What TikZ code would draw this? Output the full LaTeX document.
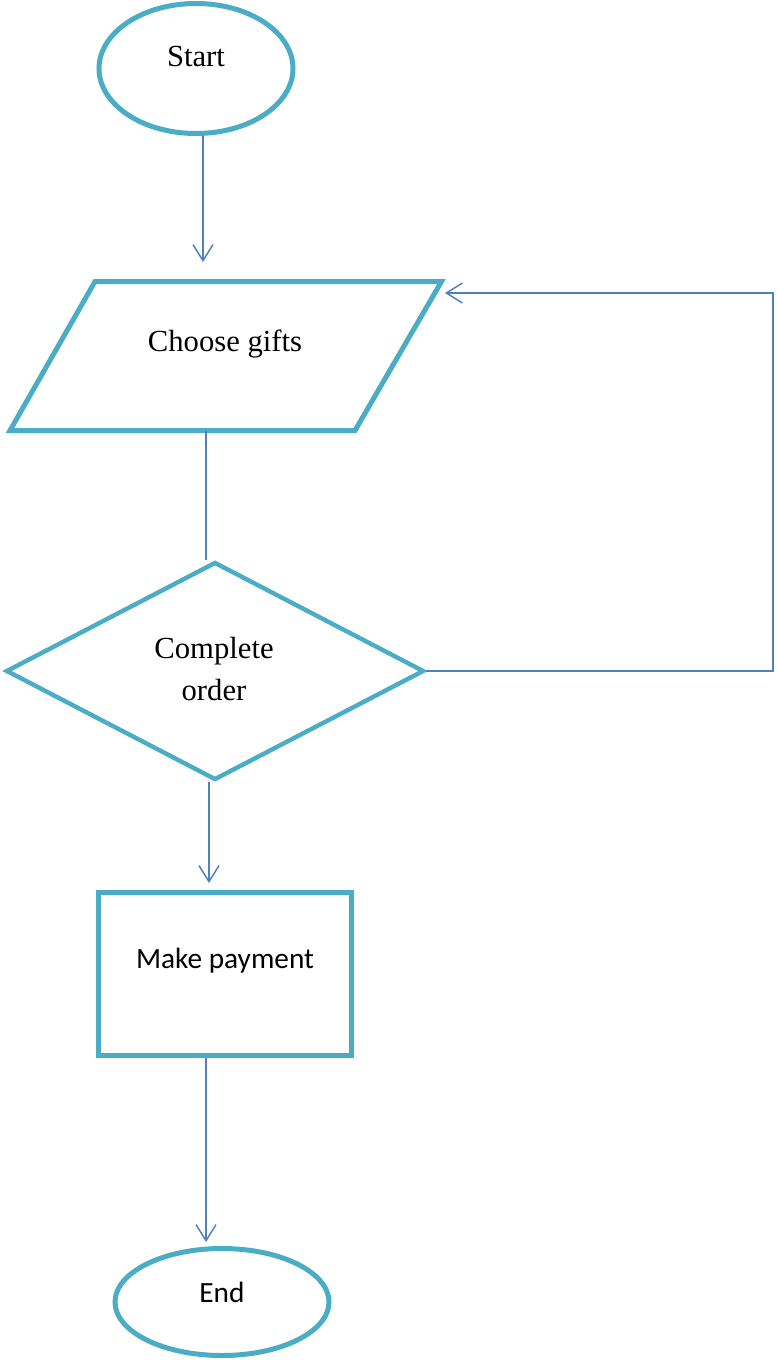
\documentclass[tikz,border=0pt]{standalone}
\usepackage{fontspec}
\setmainfont{Liberation Serif}
\newfontfamily\bodyfont{Carlito}
\usetikzlibrary{shapes.geometric,arrows.meta}
\definecolor{shapeblue}{RGB}{75,172,198}
\definecolor{lineblue}{RGB}{79,129,189}

\begin{document}
\begin{tikzpicture}[x=0.75pt,y=-0.75pt]
\tikzstyle{outline}=[draw=shapeblue,line width=3.75pt,inner sep=0pt]
\tikzstyle{terminal}=[outline,ellipse]
\tikzstyle{decision}=[outline,diamond]
\tikzstyle{process}=[outline,rectangle]
\tikzstyle{serif}=[font=\fontsize{23}{31}\selectfont,align=center,anchor=base]
\tikzstyle{sans}=[font=\bodyfont\fontsize{22}{26}\selectfont,anchor=base]
\tikzstyle{flow}=[draw=lineblue,line width=1.1pt]
\tikzstyle{flowarrow}=[flow,-{Straight Barb[length=12pt,width=15pt]}]
\useasboundingbox (0,0) rectangle (776,1360);
% shapes
\node[terminal,minimum width=145.5pt,minimum height=97.5pt] (start) at (196,68.5) {};
\coordinate (choose-tl) at (95,281.5);
\coordinate (choose-tr) at (441.5,281.5);
\coordinate (choose-br) at (355,430.5);
\coordinate (choose-bl) at (10,430.5);
\draw[outline] (choose-tl) -- (choose-tr) -- (choose-br) -- (choose-bl) -- cycle;
\node[decision,line width=3.3pt,minimum width=313.5pt,minimum height=163.5pt] (order) at (215,671) {};
\node[process,minimum width=189.75pt,minimum height=122.25pt] (payment) at (225,974) {};
\node[terminal,minimum width=160.5pt,minimum height=80.25pt] (end) at (222,1302) {};
% texts
\node[serif] (starttext) at (196,66) {Start};
\node[serif] (choosetext) at (225,351) {Choose gifts};
\node[serif,anchor=north] (ordertext) at (214,633) {Complete\\order};
\node[sans] (paymenttext) at (225,968) {Make payment};
\node[sans] (endtext) at (222,1302) {End};
% connectors
\coordinate (a1) at (203,262);
\coordinate (a2) at (209,883);
\coordinate (a3) at (206,1242);
\coordinate (b1) at (206,560);
\coordinate (c1) at (773,671);
\coordinate (c2) at (445,293);
\draw[flowarrow] (start.south -| a1) -- (a1);
\draw[flow] (choose-bl -| b1) -- (b1);
\draw[flowarrow] (order.south -| a2) -- (a2);
\draw[flowarrow] (payment.south -| a3) -- (a3);
\draw[flowarrow] (order.east) -- (c1) |- (c2);
\end{tikzpicture}
\end{document}
